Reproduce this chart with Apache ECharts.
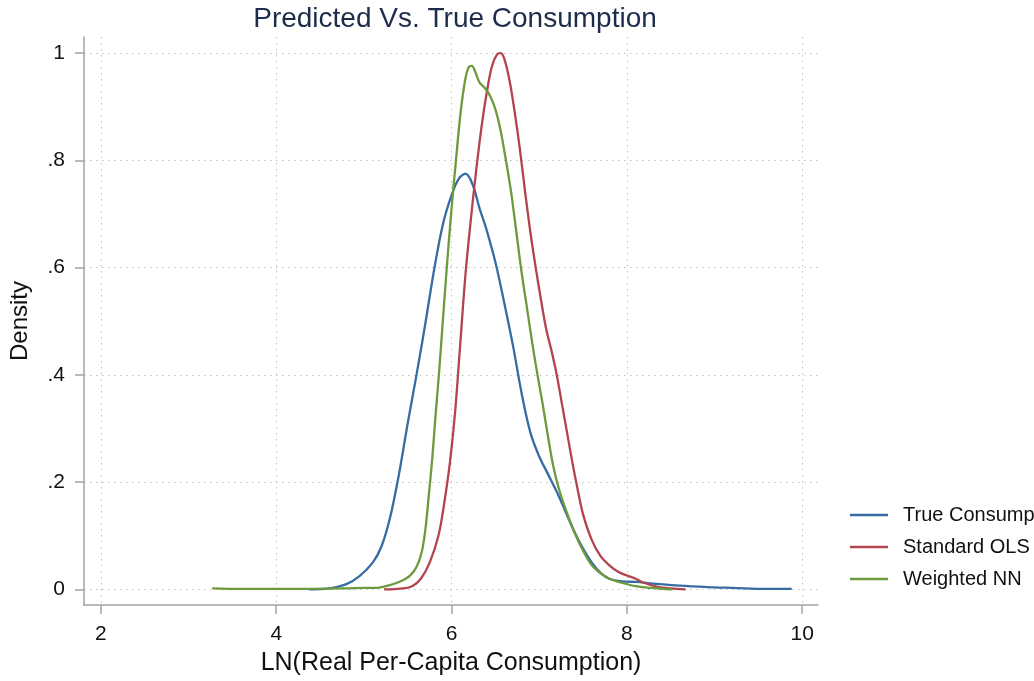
<!DOCTYPE html>
<html>
<head>
<meta charset="utf-8">
<title>Predicted Vs. True Consumption</title>
<script src="https://cdn.jsdelivr.net/npm/echarts@6/dist/echarts.min.js"></script>
<style>
	html, body { margin: 0; padding: 0; background: #fff; }
	#main { width: 1034px; height: 681px; }
</style>
</head>
<body>
<div id="main"></div>
<script>
	//数据 --- 密度曲线
	var seriesNames = ["True Consumption", "Standard OLS", "Weighted NN"];
	var seriesColors = ["#376ca3", "#b2434f", "#6c9a3c"];

	var trueX = [4.37, 4.60, 4.80, 4.95, 5.10, 5.20, 5.30, 5.40, 5.50, 5.60, 5.70, 5.80, 5.90, 6.00, 6.08, 6.16, 6.24, 6.32, 6.40, 6.50, 6.60, 6.70, 6.80, 6.90, 7.00, 7.10, 7.20, 7.30, 7.40, 7.50, 7.60, 7.70, 7.80, 7.95, 8.10, 8.30, 8.60, 9.00, 9.20, 9.60, 9.88];
	var trueY = [0.000, 0.002, 0.010, 0.025, 0.050, 0.080, 0.135, 0.215, 0.310, 0.400, 0.495, 0.595, 0.680, 0.735, 0.765, 0.775, 0.755, 0.710, 0.670, 0.610, 0.535, 0.455, 0.365, 0.292, 0.248, 0.215, 0.182, 0.145, 0.108, 0.076, 0.050, 0.031, 0.020, 0.015, 0.014, 0.011, 0.007, 0.004, 0.003, 0.001, 0.001];

	var olsX = [5.23, 5.45, 5.55, 5.65, 5.75, 5.85, 5.92, 5.98, 6.04, 6.10, 6.16, 6.22, 6.28, 6.34, 6.40, 6.46, 6.52, 6.56, 6.60, 6.66, 6.72, 6.78, 6.84, 6.90, 6.96, 7.02, 7.08, 7.14, 7.20, 7.26, 7.32, 7.38, 7.44, 7.50, 7.60, 7.70, 7.80, 7.90, 8.00, 8.10, 8.20, 8.35, 8.50, 8.67];
	var olsY = [0.000, 0.002, 0.006, 0.020, 0.050, 0.100, 0.165, 0.235, 0.330, 0.460, 0.590, 0.690, 0.780, 0.860, 0.925, 0.975, 0.998, 1.000, 0.990, 0.950, 0.890, 0.820, 0.740, 0.665, 0.600, 0.540, 0.485, 0.445, 0.400, 0.345, 0.290, 0.235, 0.185, 0.140, 0.092, 0.062, 0.045, 0.033, 0.026, 0.020, 0.012, 0.005, 0.002, 0.000];

	var nnX = [3.27, 3.60, 4.30, 4.80, 5.00, 5.15, 5.25, 5.40, 5.52, 5.60, 5.66, 5.70, 5.74, 5.78, 5.82, 5.86, 5.90, 5.95, 6.00, 6.05, 6.10, 6.15, 6.19, 6.23, 6.27, 6.32, 6.38, 6.44, 6.50, 6.56, 6.62, 6.68, 6.74, 6.80, 6.86, 6.92, 6.98, 7.04, 7.10, 7.16, 7.22, 7.30, 7.40, 7.50, 7.60, 7.70, 7.80, 7.95, 8.10, 8.27, 8.52];
	var nnY = [0.002, 0.001, 0.001, 0.002, 0.003, 0.003, 0.006, 0.014, 0.025, 0.042, 0.070, 0.110, 0.175, 0.245, 0.330, 0.410, 0.500, 0.610, 0.710, 0.800, 0.885, 0.945, 0.972, 0.976, 0.965, 0.945, 0.935, 0.920, 0.895, 0.855, 0.800, 0.740, 0.665, 0.590, 0.525, 0.460, 0.400, 0.345, 0.285, 0.230, 0.190, 0.150, 0.107, 0.072, 0.045, 0.030, 0.020, 0.012, 0.006, 0.003, 0.000];

	//坐标轴刻度
	var xTicks = [2, 4, 6, 8, 10];
	var yTicks = [0, 0.2, 0.4, 0.6, 0.8, 1];

	//把两个数组拼成 [x, y] 点
	function toPairs(xs, ys){
		var out = [];
		for (var i = 0; i < xs.length; i++) {
			out.push([xs[i], ys[i]]);
		}
		return out;
	}

	//y轴标签 .2 .4 这种写法
	function yLabel(v){
		if (v == 0) return "0";
		if (v == 1) return "1";
		return String(Math.round(v * 10) / 10).replace("0.", ".");
	}

	var font = "Liberation Sans";
	var gridLine = { show: true, lineStyle: { color: "#c0c0c0", width: 1, type: [1.5, 4.5] } };
	var axisLine = { show: true, onZero: false, lineStyle: { color: "#a2a2a2", width: 1.5 } };

	var allData = [toPairs(trueX, trueY), toPairs(olsX, olsY), toPairs(nnX, nnY)];
	var series = [];
	for (var i = 0; i < seriesNames.length; i++) {
		series.push({
			name: seriesNames[i],
			type: "line",
			data: allData[i],
			symbol: "none",
			smooth: 0.35,
			lineStyle: { color: seriesColors[i], width: 2.3 },
			itemStyle: { color: seriesColors[i] }
		});
	}

	var myChart = echarts.init(document.getElementById("main"), null, { renderer: "canvas" });
	myChart.setOption({
		backgroundColor: "#ffffff",
		animation: false,
		title: {
			text: "Predicted Vs. True Consumption",
			left: 450,
			top: 0,
			textAlign: "center",
			textStyle: { fontFamily: font, fontSize: 28, fontWeight: "normal", color: "#1e2c4c" }
		},
		legend: {
			orient: "vertical",
			left: 845,
			top: 500,
			itemWidth: 38,
			itemHeight: 2.5,
			itemGap: 12,
			icon: "rect",
			data: seriesNames,
			textStyle: { fontFamily: font, fontSize: 20, color: "#111", lineHeight: 20, padding: [0, 0, 0, 10] }
		},
		grid: { left: 82, right: 216, top: 37, bottom: 76 },
		xAxis: {
			type: "value",
			min: 1.807,
			max: 10.18,
			name: "LN(Real Per-Capita Consumption)",
			nameLocation: "middle",
			nameGap: 46,
			nameTextStyle: { fontFamily: font, fontSize: 25, color: "#111" },
			axisLine: axisLine,
			axisTick: { show: true, length: 9, customValues: xTicks, lineStyle: { color: "#a2a2a2", width: 1.5 } },
			axisLabel: { customValues: xTicks, margin: 19, fontFamily: font, fontSize: 21, color: "#111" },
			splitLine: gridLine
		},
		yAxis: {
			type: "value",
			min: -0.029,
			max: 1.03,
			name: "Density",
			nameLocation: "middle",
			nameGap: 52,
			nameRotate: 90,
			nameTextStyle: { fontFamily: font, fontSize: 24, color: "#111" },
			axisLine: axisLine,
			axisTick: { show: true, length: 9, customValues: yTicks, lineStyle: { color: "#a2a2a2", width: 1.5 } },
			axisLabel: { customValues: yTicks, margin: 19, fontFamily: font, fontSize: 21, color: "#111", formatter: yLabel },
			splitLine: gridLine
		},
		series: series
	});
</script>
</body>
</html>
